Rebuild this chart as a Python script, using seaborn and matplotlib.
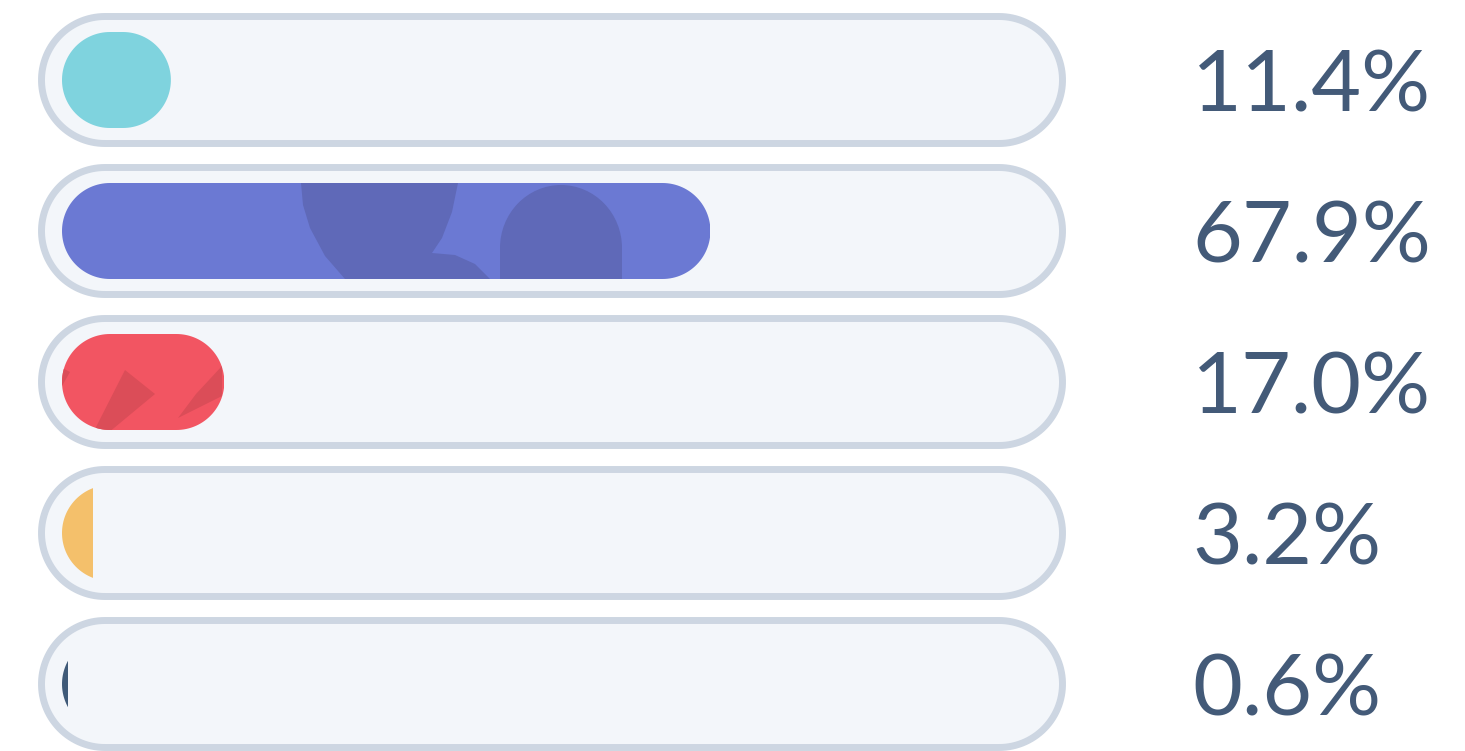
import numpy as np
import pandas as pd
import matplotlib
matplotlib.use("Agg")
import matplotlib.pyplot as plt
import seaborn as sns
from matplotlib.patches import Rectangle, Polygon, Ellipse

# ---- data ----
categories = ["A", "B", "C", "D", "E"]
values = [11.4, 67.9, 17.0, 3.2, 0.6]
labels = ["11.4%", "67.9%", "17.0%", "3.2%", "0.6%"]
colors = ["#7FD3DE", "#6B79D3", "#F25562", "#F4C06B", "#3F5A78"]

sns.set_theme(style="white")
plt.rcParams["font.family"] = ["Lato", "DejaVu Sans"]

W, H, DPI = 1465, 751, 100
fig = plt.figure(figsize=(W / DPI, H / DPI), dpi=DPI)
ax = fig.add_axes([0, 0, 1, 1])

df = pd.DataFrame({"cat": categories, "val": values})
sns.barplot(data=df, x="val", y="cat", hue="cat", palette=colors, orient="h",
            width=96 / 151, legend=False, ax=ax)

PX_PER_X = 9.55   # pixels per percent
PX_PER_Y = 151.0  # pixels per row
x0_px, y0_px = 62, 80
ax.set_xlim(-x0_px / PX_PER_X, (W - x0_px) / PX_PER_X)
ax.set_ylim((H - y0_px) / PX_PER_Y, -y0_px / PX_PER_Y)
ax.set_axis_off()


def px2x(p):
    return (p - x0_px) / PX_PER_X


def px2y(p):
    return (p - y0_px) / PX_PER_Y


def pill_points(x, y, w, h, n=60):
    """Stadium shape with circular ends (in pixel space)."""
    ry = h / 2
    rx = ry * PX_PER_Y / PX_PER_X
    w = max(w, 2 * rx)
    cy = y + ry
    t1 = np.linspace(np.pi / 2, 3 * np.pi / 2, n)   # left cap
    t2 = np.linspace(-np.pi / 2, np.pi / 2, n)      # right cap
    left = np.column_stack([x + rx + rx * np.cos(t1), cy - ry * np.sin(t1)])
    right = np.column_stack([x + w - rx + rx * np.cos(t2), cy - ry * np.sin(t2)])
    return np.vstack([left, right])


track_left, track_right = px2x(41.5), px2x(1062.5)
track_h = 127 / PX_PER_Y

bars = list(ax.patches)
for i, p in enumerate(bars):
    p.set_visible(False)
    y = p.get_y()
    h = p.get_height()
    cy = y + h / 2
    tr = Polygon(pill_points(track_left, cy - track_h / 2, track_right - track_left, track_h),
                 closed=True, facecolor="#F3F6FA", edgecolor="#CDD6E2",
                 linewidth=5.0, zorder=1)
    ax.add_patch(tr)
    w = p.get_width()
    pill = Polygon(pill_points(0, y, w, h), closed=True, facecolor=colors[i],
                   edgecolor="none", linewidth=0, zorder=2)
    ax.add_patch(pill)
    clip = Rectangle((0, y - 0.1), w, h + 0.2, transform=ax.transData, visible=False)
    ax.add_patch(clip)
    pill.set_clip_path(clip)

    # decorative overlays inside the bars
    deco = []
    if i == 1:
        pts = [(301, 183), (458, 183), (452, 212), (442, 238), (432, 253), (455, 255),
               (475, 264), (490, 279), (345, 279), (325, 256), (310, 228), (303, 205)]
        deco.append(Polygon([(px2x(a), px2y(b)) for a, b in pts], closed=True,
                            facecolor="#5F69B8", edgecolor="none", zorder=3))
        deco.append(Ellipse((px2x(561), px2y(248)), 122 / PX_PER_X, 126 / PX_PER_Y,
                            facecolor="#5F69B8", edgecolor="none", zorder=3))
        deco.append(Rectangle((px2x(500), px2y(248)), 122 / PX_PER_X, 40 / PX_PER_Y,
                              facecolor="#5F69B8", edgecolor="none", zorder=3))
    elif i == 2:
        shapes = [[(62, 368), (70, 372), (62, 386)],
                  [(125, 370), (155, 394), (108, 433), (93, 433)],
                  [(222, 366), (222, 396), (178, 418), (196, 394)]]
        for s in shapes:
            deco.append(Polygon([(px2x(a), px2y(b)) for a, b in s], closed=True,
                                facecolor="#DB4D58", edgecolor="none", zorder=3))
    for d in deco:
        ax.add_patch(d)
        d.set_clip_path(pill)

    ax.text(px2x(1192), cy, labels[i], ha="left", va="center_baseline",
            fontsize=62, color="#435A78", fontweight="normal", zorder=4)

fig.savefig("out.png", dpi=DPI, facecolor="white")
